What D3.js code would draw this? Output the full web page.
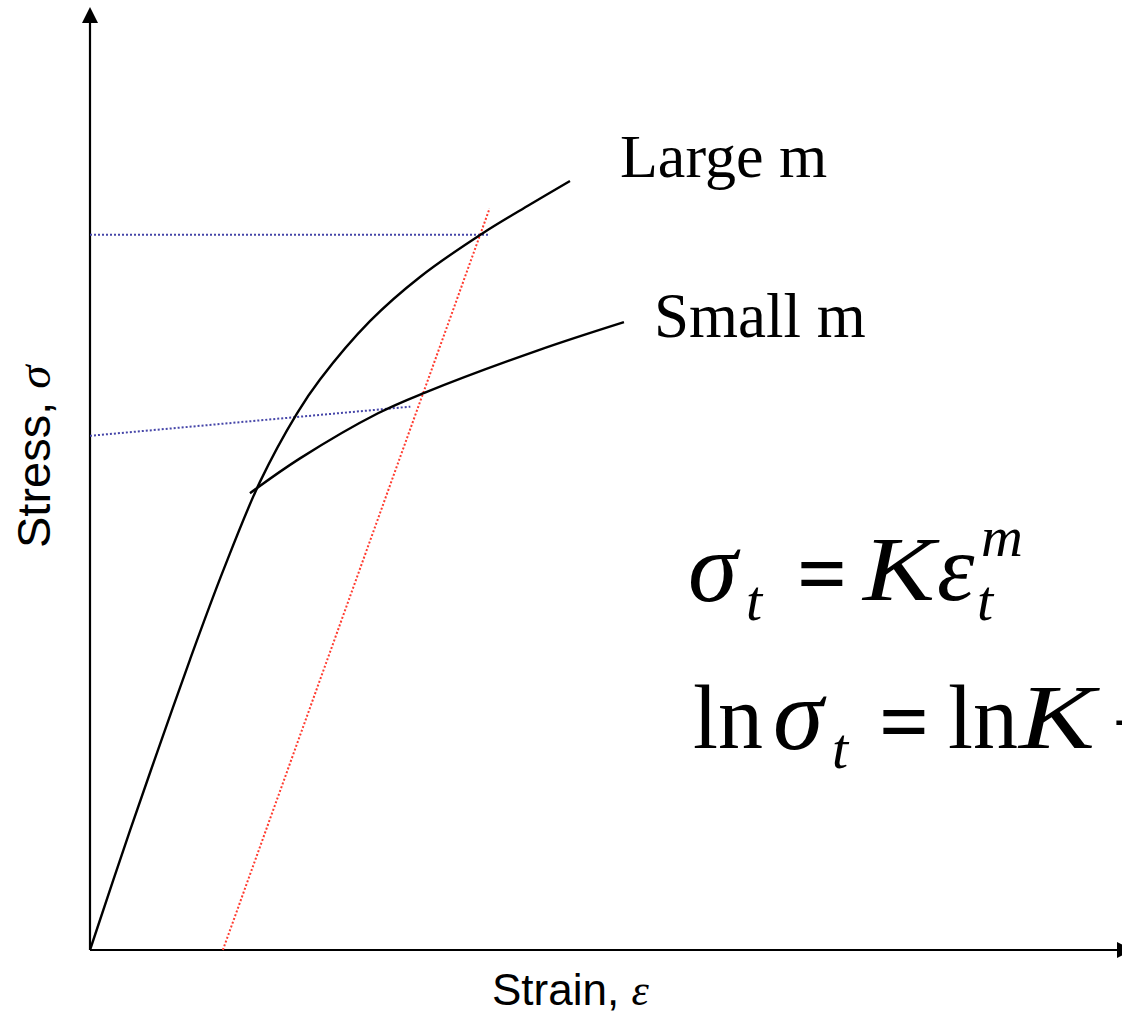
<!DOCTYPE html>
<html>
<head>
<meta charset="utf-8">
<script src="https://cdn.jsdelivr.net/npm/d3@7"></script>
<style>
html,body{margin:0;padding:0;background:#fff;overflow:hidden;}
svg{display:block;}
</style>
</head>
<body>
<script>
// ---- data (strain, stress in arbitrary units) ----
const largeStrain = [0, 3.88, 6.80, 9.71, 12.91, 16.50, 20.10, 22.33, 27.18, 32.04, 38.06, 42.72, 46.60];
const largeStress = [0, 12.7, 21.9, 30.9, 40.3, 49.8, 57.1, 60.7, 66.9, 71.6, 76.2, 79.3, 81.8];
const smallStrain = [15.53, 20.39, 27.96, 32.52, 43.50, 51.84];
const smallStress = [48.6, 52.3, 57.1, 59.3, 63.8, 66.8];
const redStrain = [12.9, 38.8];
const redStress = [0, 78.9];
const blueFlatStrain = [0, 38.8];
const blueFlatStress = [76.1, 76.1];
const blueSlopeStrain = [0, 31.1];
const blueSlopeStress = [54.7, 57.8];
const curveLabels = ["Large m", "Small m"];
const axisLabels = ["Strain, ", "ε", "Stress, ", "σ"];

const W = 1122, H = 1019;
const x = d3.scaleLinear().domain([0, 100]).range([90, 1120]);
const y = d3.scaleLinear().domain([0, 100]).range([950, 10]);

const svg = d3.select("body").append("svg").attr("width", W).attr("height", H);

const zip = (a, b) => a.map((v, i) => [v, b[i]]);
const line = d3.line().x(d => x(d[0])).y(d => y(d[1])).curve(d3.curveCatmullRom.alpha(0.5));
const straight = d3.line().x(d => x(d[0])).y(d => y(d[1]));

// axes
svg.append("line").attr("x1", x(0)).attr("x2", x(0)).attr("y1", y(0)).attr("y2", 20)
  .attr("stroke", "#000").attr("stroke-width", 2.2);
svg.append("path").attr("d", `M${x(0)},7 L${x(0)-8},23 L${x(0)+8},23 Z`).attr("fill", "#000");
svg.append("line").attr("x1", x(0)).attr("x2", W).attr("y1", y(0)).attr("y2", y(0))
  .attr("stroke", "#000").attr("stroke-width", 2.2);
svg.append("path").attr("d", `M${W-5},${y(0)-8} L${W+11},${y(0)} L${W-5},${y(0)+8} Z`).attr("fill", "#000");

// dotted guide lines
svg.append("path").attr("d", straight(zip(blueFlatStrain, blueFlatStress)))
  .attr("fill", "none").attr("stroke", "#4545a8").attr("stroke-width", 2).attr("stroke-dasharray", "2,2");
svg.append("path").attr("d", straight(zip(blueSlopeStrain, blueSlopeStress)))
  .attr("fill", "none").attr("stroke", "#4545a8").attr("stroke-width", 2).attr("stroke-dasharray", "2,2");
svg.append("path").attr("d", straight(zip(redStrain, redStress)))
  .attr("fill", "none").attr("stroke", "#ff3b2f").attr("stroke-width", 2).attr("stroke-dasharray", "2,2");

// curves
svg.append("path").attr("d", line(zip(largeStrain, largeStress)))
  .attr("fill", "none").attr("stroke", "#000").attr("stroke-width", 2.4);
svg.append("path").attr("d", line(zip(smallStrain, smallStress)))
  .attr("fill", "none").attr("stroke", "#000").attr("stroke-width", 2.4);

// curve labels
const serif = "'Liberation Serif', 'Times New Roman', serif";
svg.append("text").attr("x", 620).attr("y", 177).attr("font-family", serif).attr("font-size", 62)
  .text(curveLabels[0]);
svg.append("text").attr("x", 654).attr("y", 337).attr("font-family", serif).attr("font-size", 63)
  .text(curveLabels[1]);

// axis labels
const sans = "'Liberation Sans', Arial, sans-serif";
const xl = svg.append("text").attr("x", 492).attr("y", 1005).attr("font-family", sans).attr("font-size", 44);
xl.append("tspan").text(axisLabels[0]);
xl.append("tspan").attr("font-family", serif).attr("font-style", "italic").text(axisLabels[1]);
const yl = svg.append("text").attr("transform", "translate(50,548) rotate(-90)")
  .attr("font-family", sans).attr("font-size", 47);
yl.append("tspan").text(axisLabels[2]);
yl.append("tspan").attr("font-family", serif).attr("font-style", "italic").text(axisLabels[3]);

// equations
function t(str, px, py, size, italic, weight, len) {
  const e = svg.append("text").attr("x", px).attr("y", py).attr("font-family", serif)
    .attr("font-size", size).attr("font-style", italic ? "italic" : "normal")
    .attr("font-weight", weight || "normal").text(str);
  if (len) e.attr("textLength", len).attr("lengthAdjust", "spacingAndGlyphs");
}
// line 1
t("σ", 688, 601, 100, true);
t("t", 746, 620, 58, true);
t("=", 797, 604, 88, false, "bold");
t("K", 863, 600, 92, true, null, 72);
t("ε", 937, 600, 95, true);
t("t", 977, 620, 58, true);
t("m", 981, 556, 58, true);
// line 2
t("ln", 693, 748, 90, false);
t("σ", 773, 749, 102, true);
t("t", 832, 768, 58, true);
t("=", 879, 752, 88, false, "bold");
t("ln", 948, 748, 90, false);
t("K", 1019, 748, 92, true, null, 76);
t("+", 1112, 752, 88, false);
</script>
</body>
</html>
